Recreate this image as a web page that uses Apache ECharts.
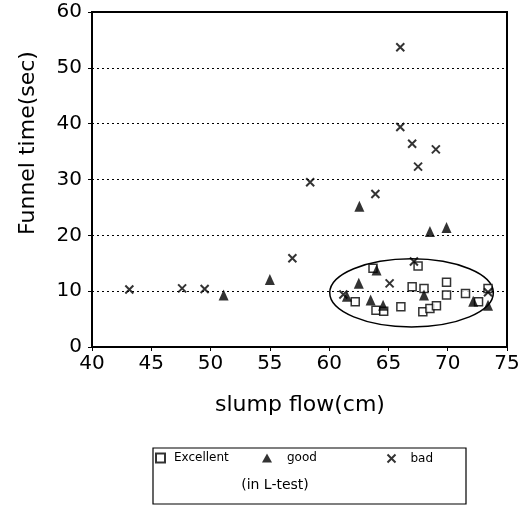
<!DOCTYPE html>
<html><head><meta charset="utf-8">
<script src="https://cdn.jsdelivr.net/npm/echarts@6/dist/echarts.min.js"></script>
<style>html,body{margin:0;padding:0;background:#fff}#c{width:532px;height:506px}</style>
</head><body><div id="c"></div>
<script>
// Excellent (open squares)
const excellentX = [63.7, 67.5, 67.0, 68.0, 69.9, 69.9, 71.5, 72.6, 62.2, 63.95, 64.6, 66.05, 67.9, 68.5, 69.05, 73.4];
const excellentY = [14.1, 14.5, 10.8, 10.5, 11.6, 9.3, 9.6, 8.1, 8.1, 6.6, 6.4, 7.2, 6.3, 6.9, 7.4, 10.5];
// good (filled triangles)
const goodX = [62.55, 68.5, 69.9, 51.1, 55.0, 64.0, 62.5, 61.5, 63.5, 64.55, 68.0, 72.15, 73.4];
const goodY = [25.2, 20.7, 21.4, 9.3, 12.1, 13.8, 11.4, 9.1, 8.4, 7.5, 9.3, 8.2, 7.5];
// bad (crosses)
const badX = [66.0, 66.0, 67.0, 69.0, 67.5, 58.4, 63.9, 43.15, 47.6, 49.5, 56.9, 67.15, 65.1, 61.2, 73.4];
const badY = [53.7, 39.4, 36.4, 35.4, 32.3, 29.5, 27.4, 10.3, 10.5, 10.4, 15.9, 15.3, 11.4, 9.4, 9.8];
// ellipse annotation: centre x, centre y, half-width, half-height (data units)
const ellipseSpec = [[66.95, 9.7, 6.9, 6.1]];
const xTicks = [40, 45, 50, 55, 60, 65, 70, 75];
const yTicks = [0, 10, 20, 30, 40, 50, 60];
const xName = 'slump flow(cm)';
const yName = 'Funnel time(sec)';
const legendNames = ['Excellent', 'good', 'bad'];
const legendNote = '(in L-test)';

const zip = (a, b) => a.map((v, i) => [v, b[i]]);
const FONT = 'DejaVu Sans';
const crossPath = 'path://M0,0L10,10M10,0L0,10';

const chart = echarts.init(document.getElementById('c'));
chart.setOption({
  animation: false,
  backgroundColor: '#fff',
  grid: {left: 92, top: 12, right: 25, bottom: 159, show: true, borderColor: '#000', borderWidth: 2, backgroundColor: 'transparent'},
  xAxis: {
    type: 'value', min: 40, max: 75, interval: 5,
    axisLine: {show: true, lineStyle: {color: '#000', width: 2}},
    axisTick: {show: true, length: 4, lineStyle: {color: '#000'}},
    axisLabel: {color: '#000', fontSize: 20, fontFamily: FONT, margin: 7, formatter: v => xTicks.includes(v) ? String(v) : ''},
    splitLine: {show: false}
  },
  yAxis: {
    type: 'value', min: 0, max: 60, interval: 10,
    axisLine: {show: true, lineStyle: {color: '#000', width: 2}},
    axisTick: {show: true, length: 4, lineStyle: {color: '#000'}},
    axisLabel: {color: '#000', fontSize: 20, fontFamily: FONT, margin: 10, formatter: v => yTicks.includes(v) ? String(v) : ''},
    splitLine: {show: true, lineStyle: {color: '#000', type: [2, 3], width: 1.2}}
  },
  legend: [
    {data: [legendNames[0]], left: 155, top: 452, padding: 0, itemWidth: 9, itemHeight: 9,
     textStyle: {fontFamily: FONT, fontSize: 12, color: '#000', padding: [0, 0, 0, 4]}},
    {data: [legendNames[1]], left: 262, top: 452, padding: 0, itemWidth: 10, itemHeight: 9,
     textStyle: {fontFamily: FONT, fontSize: 12, color: '#000', padding: [0, 0, 0, 10]}},
    {data: [legendNames[2]], left: 385, top: 452, padding: 0, itemWidth: 8, itemHeight: 8,
     textStyle: {fontFamily: FONT, fontSize: 12, color: '#000', padding: [0, 0, 0, 10]}}
  ],
  graphic: [
    {type: 'rect', shape: {x: 153, y: 448, width: 313, height: 56}, style: {fill: 'none', stroke: '#000', lineWidth: 1.2}},
    {type: 'text', x: 275, y: 485, style: {text: legendNote, fontFamily: FONT, fontSize: 14, fill: '#000', textAlign: 'center', textVerticalAlign: 'middle'}},
    {type: 'text', x: 28, y: 143, rotation: Math.PI / 2, style: {text: yName, fontFamily: FONT, fontSize: 22, fill: '#000', textAlign: 'center', textVerticalAlign: 'middle'}},
    {type: 'text', x: 300, y: 405, style: {text: xName, fontFamily: FONT, fontSize: 22, fill: '#000', textAlign: 'center', textVerticalAlign: 'middle'}}
  ],
  series: [
    {
      type: 'custom', name: 'ellipse', silent: true, z: 1,
      data: ellipseSpec,
      renderItem: function (params, api) {
        const c = api.coord([api.value(0), api.value(1)]);
        const s = api.size([api.value(2), api.value(3)]);
        const rx = s[0], ry = s[1];
        const d = `M${c[0] - rx},${c[1]} A${rx},${ry} 0 1,0 ${c[0] + rx},${c[1]} A${rx},${ry} 0 1,0 ${c[0] - rx},${c[1]} Z`;
        return {type: 'path', shape: {pathData: d}, style: {fill: 'none', stroke: '#000', lineWidth: 1.5}};
      }
    },
    {
      type: 'scatter', name: legendNames[0], data: zip(excellentX, excellentY), z: 3,
      symbol: 'rect', symbolSize: 8,
      itemStyle: {color: '#fff', borderColor: '#000', borderWidth: 1.5}
    },
    {
      type: 'scatter', name: legendNames[1], data: zip(goodX, goodY), z: 4,
      symbol: 'triangle', symbolSize: [10, 11],
      itemStyle: {color: '#000'}
    },
    {
      type: 'scatter', name: legendNames[2], data: zip(badX, badY), z: 5,
      symbol: crossPath, symbolSize: 8,
      itemStyle: {color: 'none', borderColor: '#000', borderWidth: 2}
    }
  ]
});
</script>
</body></html>
